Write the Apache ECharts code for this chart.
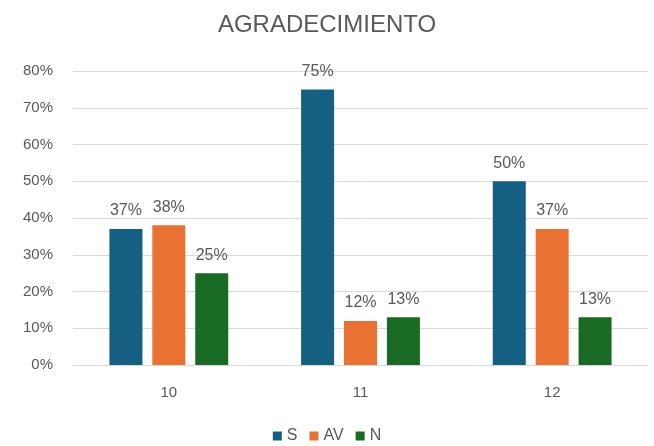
<!DOCTYPE html>
<html>
<head>
<meta charset="utf-8">
<script src="https://cdn.jsdelivr.net/npm/echarts@6/dist/echarts.min.js"></script>
<style>
  html, body { margin: 0; padding: 0; background: #fff; }
  #chart { width: 654px; height: 446px; }
</style>
</head>
<body>
<div id="chart"></div>
<script>
var categories = ["10", "11", "12"];
var seriesNames = ["S", "AV", "N"];
var valuesS = [37, 75, 50];
var valuesAV = [38, 12, 37];
var valuesN = [25, 13, 13];
var colors = ["#156082", "#E97132", "#196B24"];

var font = "Liberation Sans, Arial, sans-serif";
var chart = echarts.init(document.getElementById("chart"));

function makeSeries(name, data, color) {
  return {
    name: name,
    type: "bar",
    data: data,
    barWidth: 33,
    barGap: "30%",
    itemStyle: { color: color },
    label: {
      show: true,
      position: "top",
      distance: 10,
      formatter: "{c}%",
      color: "#595959",
      fontSize: 16,
      fontFamily: font
    }
  };
}

chart.setOption({
  backgroundColor: "#fff",
  animation: false,
  title: {
    text: "AGRADECIMIENTO",
    left: "center",
    top: 8,
    textStyle: { color: "#595959", fontSize: 24, fontWeight: "normal", fontFamily: font }
  },
  legend: {
    bottom: -3,
    left: "center",
    itemWidth: 9,
    itemHeight: 9,
    itemGap: 12,
    icon: "rect",
    textStyle: { color: "#595959", fontSize: 16, fontFamily: font },
    data: seriesNames
  },
  grid: { left: 73, right: 6, top: 71, bottom: 81 },
  xAxis: {
    type: "category",
    data: categories,
    axisTick: { show: false },
    axisLine: { lineStyle: { color: "#d9d9d9" } },
    axisLabel: { color: "#595959", fontSize: 15, fontFamily: font, margin: 20 }
  },
  yAxis: {
    type: "value",
    min: 0,
    max: 80,
    interval: 10,
    axisLabel: { formatter: "{value}%", color: "#595959", fontSize: 15, fontFamily: font, margin: 20 },
    splitLine: { lineStyle: { color: "#d9d9d9" } },
    axisLine: { show: false },
    axisTick: { show: false }
  },
  series: [
    makeSeries(seriesNames[0], valuesS, colors[0]),
    makeSeries(seriesNames[1], valuesAV, colors[1]),
    makeSeries(seriesNames[2], valuesN, colors[2])
  ]
});
</script>
</body>
</html>
